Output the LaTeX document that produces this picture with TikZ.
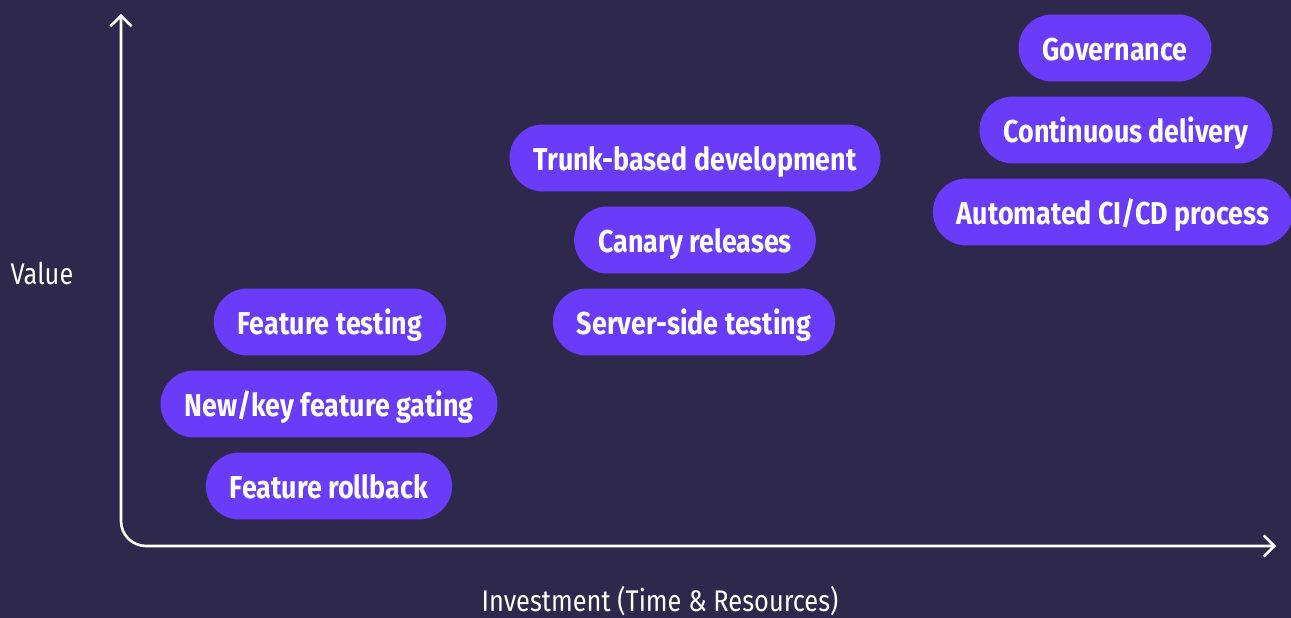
\documentclass[tikz,border=0pt]{standalone}
\usepackage{fontspec}
\setmainfont{Fira Sans}
\newfontfamily\pillfont[FakeStretch=0.85]{Fira Sans}
\usetikzlibrary{arrows.meta,positioning}

\definecolor{bgdark}{RGB}{46,41,76}
\definecolor{pillviolet}{RGB}{106,60,250}

\begin{document}
\begin{tikzpicture}[
    x=0.02cm, y=-0.02cm,
    pill/.style={rectangle, fill=pillviolet, rounded corners=0.67cm, minimum height=1.34cm,
                 inner xsep=0.48cm, inner ysep=0pt, text height=16pt, text depth=1.4pt,
                 text=white, font=\pillfont\bfseries\fontsize{18}{20}\selectfont},
    axislabel/.style={text=white, font=\pillfont\fontsize{17}{20}\selectfont},
    axisline/.style={white, line width=1.5pt, rounded corners=0.5cm,
                     {Straight Barb[length=6pt, width=12pt, line width=1.5pt]}-{Straight Barb[length=6pt, width=12pt, line width=1.5pt]}}
]

% background
\fill[bgdark] (0,0) rectangle (1291,618);
\useasboundingbox (0,0) rectangle (1291,618);

% axes
\coordinate (ytip) at (121,14);
\coordinate (xtip) at (1276,546);
\draw[axisline] (ytip) |- (xtip);

\node[axislabel] (valueLbl) at (42,273) {Value};
\node[axislabel] (investLbl) at (660,601) {Investment (Time \& Resources)};

% low investment
\node[pill] (featTest) at (330,322) {Feature testing};
\node[pill] (gating) at (329,404) {New/key feature gating};
\node[pill] (rollback) at (329,486) {Feature rollback};

% medium investment
\node[pill] (trunkDev) at (695,158) {Trunk-based development};
\node[pill] (canary) at (695,240) {Canary releases};
\node[pill] (serverTest) at (694,322) {Server-side testing};

% high investment
\node[pill] (governance) at (1115,48) {Governance};
\node[pill] (contDelivery) at (1126,130) {Continuous delivery};
\node[pill] (cicd) at (1113,212) {Automated CI/CD process};

\end{tikzpicture}
\end{document}
